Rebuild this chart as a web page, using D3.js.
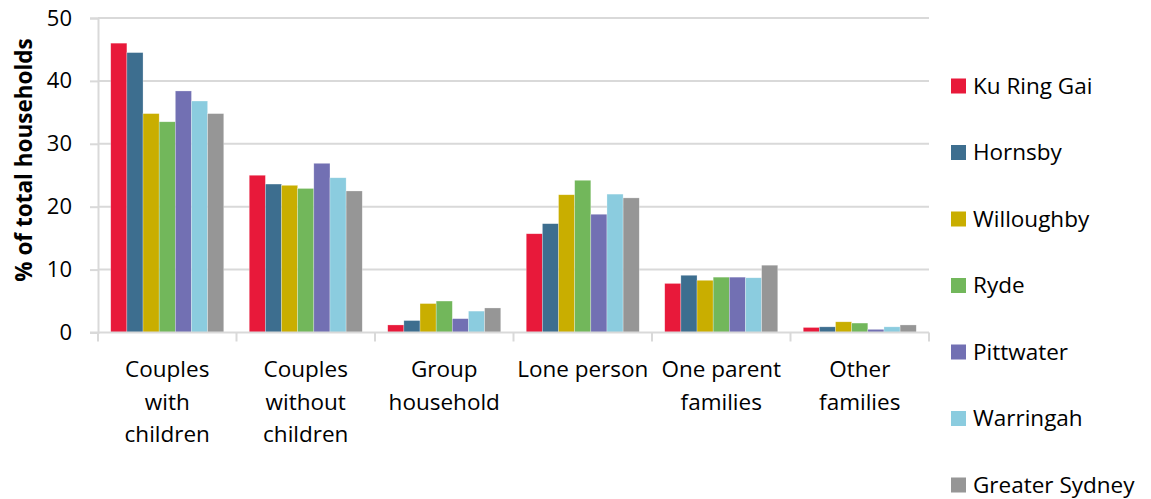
<!DOCTYPE html>
<html>
<head>
<meta charset="utf-8">
<script src="https://cdn.jsdelivr.net/npm/d3@7"></script>
<style>
  html, body { margin: 0; padding: 0; background: #fff; }
  svg { display: block; font-family: "Open Sans", "Noto Sans", sans-serif; }
</style>
</head>
<body>
<svg id="chart" width="1151" height="499"></svg>
<script>
// Household types, % of total households by LGA
const categories = [
  ["Couples", "with", "children"],
  ["Couples", "without", "children"],
  ["Group", "household"],
  ["Lone person"],
  ["One parent", "families"],
  ["Other", "families"]
];
const seriesNames = ["Ku Ring Gai", "Hornsby", "Willoughby", "Ryde", "Pittwater", "Warringah", "Greater Sydney"];
const seriesColors = ["#E8193A", "#3D6E8F", "#C9AE00", "#72B75B", "#7270B3", "#8BCCDF", "#969696"];

const kuRingGai     = [46.0, 25.0, 1.2, 15.7, 7.8, 0.8];
const hornsby       = [44.5, 23.6, 1.9, 17.3, 9.1, 0.9];
const willoughby    = [34.8, 23.4, 4.6, 21.9, 8.3, 1.7];
const ryde          = [33.5, 22.9, 5.0, 24.2, 8.8, 1.5];
const pittwater     = [38.4, 26.9, 2.2, 18.8, 8.8, 0.5];
const warringah     = [36.8, 24.6, 3.4, 22.0, 8.7, 0.9];
const greaterSydney = [34.8, 22.5, 3.9, 21.4, 10.7, 1.2];
const seriesValues = [kuRingGai, hornsby, willoughby, ryde, pittwater, warringah, greaterSydney];

const yTicks = [0, 10, 20, 30, 40, 50];
const yTitle = "% of total households";

const svg = d3.select("#chart");
const plotLeft = 98, plotRight = 929, plotTop = 18, plotBottom = 332.5;

const x0 = d3.scaleBand().domain(d3.range(categories.length)).range([plotLeft, plotRight]).paddingInner(0.184).paddingOuter(0.092);
const x1 = d3.scaleBand().domain(d3.range(seriesNames.length)).range([0, x0.bandwidth()]);
const y = d3.scaleLinear().domain([0, 50]).range([plotBottom, plotTop]);

const gridColor = "#D9D9D9";

// horizontal gridlines
svg.append("g").selectAll("line").data(yTicks.filter(t => t > 0)).join("line")
  .attr("x1", plotLeft).attr("x2", plotRight)
  .attr("y1", d => y(d)).attr("y2", d => y(d))
  .attr("stroke", gridColor).attr("stroke-width", 2);

// bars
const groups = svg.append("g").selectAll("g").data(categories).join("g")
  .attr("transform", (d, i) => `translate(${x0(i)},0)`);
groups.selectAll("rect").data((d, i) => seriesValues.map((s, k) => ({k, v: s[i]}))).join("rect")
  .attr("x", d => x1(d.k))
  .attr("width", x1.bandwidth())
  .attr("y", d => y(d.v))
  .attr("height", d => y(0) - y(d.v))
  .attr("fill", d => seriesColors[d.k])
  .attr("stroke", "rgba(255,255,255,0.45)").attr("stroke-width", 0.6);

// y axis
const yAxis = svg.append("g").attr("transform", `translate(${plotLeft},0)`)
  .call(d3.axisLeft(y).tickValues(yTicks).tickSize(8).tickPadding(18).tickFormat(d3.format("d")));
yAxis.select(".domain").attr("stroke", gridColor).attr("stroke-width", 2);
yAxis.selectAll(".tick line").attr("stroke", gridColor).attr("stroke-width", 2);
yAxis.selectAll("text").attr("font-size", 22).attr("fill", "#000")
  .attr("font-family", "'Open Sans', sans-serif");

// x axis baseline and category separators
const sepScale = d3.scaleLinear().domain([0, categories.length]).range([plotLeft, plotRight]);
svg.append("line").attr("x1", plotLeft - 8).attr("x2", plotRight).attr("y1", plotBottom).attr("y2", plotBottom)
  .attr("stroke", gridColor).attr("stroke-width", 2);
svg.append("g").selectAll("line").data(d3.range(categories.length + 1)).join("line")
  .attr("x1", d => sepScale(d)).attr("x2", d => sepScale(d))
  .attr("y1", plotBottom).attr("y2", plotBottom + 9)
  .attr("stroke", gridColor).attr("stroke-width", 2);

// category labels
const lab = svg.append("g").selectAll("text").data(categories).join("text")
  .attr("x", (d, i) => x0(i) + x0.bandwidth() / 2)
  .attr("y", 377)
  .attr("text-anchor", "middle")
  .attr("font-size", 22.5).attr("fill", "#000");
lab.selectAll("tspan").data(d => d).join("tspan")
  .attr("x", function () { return d3.select(this.parentNode).attr("x"); })
  .attr("dy", (d, i) => i === 0 ? 0 : 32.5)
  .text(d => d);

// y title
svg.append("text")
  .attr("transform", `translate(32,160) rotate(-90)`)
  .attr("text-anchor", "middle")
  .attr("font-size", 22.5).attr("font-weight", "bold").attr("fill", "#000")
  .text(yTitle);

// legend
const leg = svg.append("g").selectAll("g").data(seriesNames).join("g")
  .attr("transform", (d, i) => `translate(951,${86 + i * 66.5})`);
leg.append("rect").attr("x", 0).attr("y", -7.5).attr("width", 15).attr("height", 15)
  .attr("fill", (d, i) => seriesColors[i]);
leg.append("text").attr("x", 22).attr("y", 7.5).attr("font-size", 22.5).attr("fill", "#000")
  .text(d => d);
</script>
</body>
</html>
